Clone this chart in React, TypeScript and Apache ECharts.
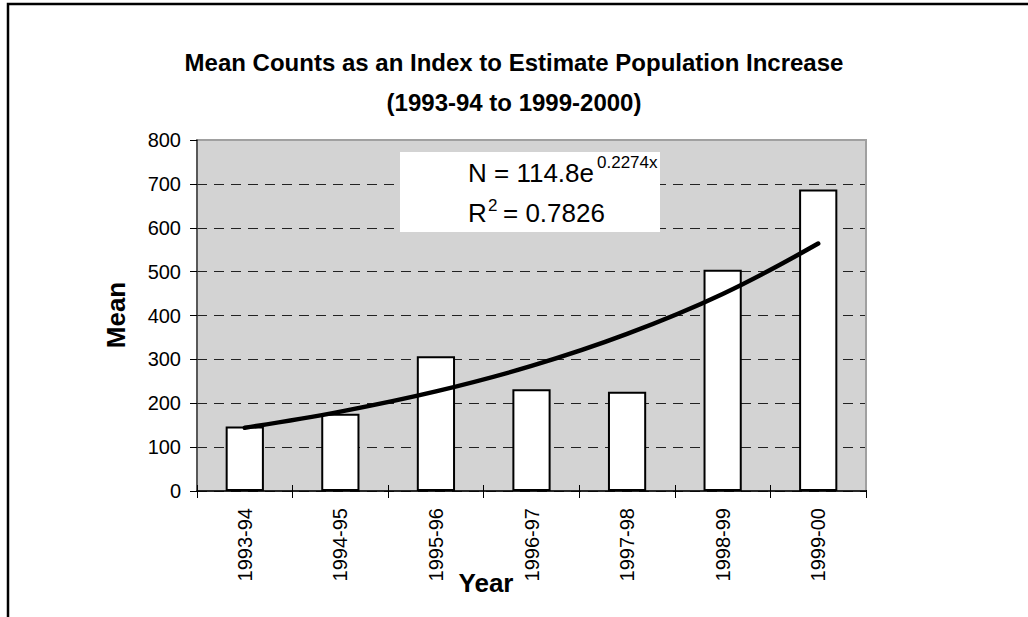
import React, { useEffect, useRef } from "react";
import * as echarts from "echarts";

const categories = ["1993-94", "1994-95", "1995-96", "1996-97", "1997-98", "1998-99", "1999-00"];
const meanValues = [147, 176, 307, 232, 226, 504, 687];
// exponential trend line N = 114.8e^(0.2274x), values as drawn
const trendValues = [144, 181, 227, 285, 358, 449, 564];
const yTicks = { min: 0, max: 800, interval: 100 };

const FONT = "'Liberation Sans', Arial, sans-serif";

export default function App() {
  const ref = useRef<HTMLDivElement>(null);
  useEffect(() => {
    if (!ref.current) return;
    const chart = echarts.init(ref.current, undefined, { renderer: "svg" });
    chart.setOption({
      animation: false,
      backgroundColor: "#ffffff",
      textStyle: { fontFamily: FONT },
      title: {
        text: "Mean Counts as an Index to Estimate Population Increase\n(1993-94 to 1999-2000)",
        left: "center",
        top: 37,
        textStyle: { fontFamily: FONT, fontSize: 24, fontWeight: "bold", color: "#000", lineHeight: 40 },
      },
      grid: {
        left: 197,
        right: 162,
        top: 140,
        bottom: 126,
        show: true,
        backgroundColor: "#d3d3d3",
        borderColor: "#a0a0a0",
        borderWidth: 2,
      },
      xAxis: [
        {
          type: "category",
          data: categories,
          position: "bottom",
          boundaryGap: true,
          axisLine: { show: true, lineStyle: { color: "#000", width: 1.5 } },
          axisTick: { show: true, length: 7, lineStyle: { color: "#000", width: 1 } },
          axisLabel: { rotate: 90, margin: 17, fontSize: 20, color: "#000", fontFamily: FONT },
          splitLine: { show: false },
        },
        {
          type: "category",
          data: categories,
          position: "bottom",
          boundaryGap: true,
          axisLine: { show: false },
          axisTick: { show: true, inside: true, length: 6, lineStyle: { color: "#000", width: 1 } },
          axisLabel: { show: false },
          splitLine: { show: false },
        },
      ],
      yAxis: {
        type: "value",
        min: yTicks.min,
        max: yTicks.max,
        interval: yTicks.interval,
        axisLine: { show: true, lineStyle: { color: "#404040", width: 1.5 } },
        axisTick: { show: true, length: 7, lineStyle: { color: "#000", width: 1 } },
        axisLabel: { margin: 16, fontSize: 20, color: "#000", fontFamily: FONT },
        splitLine: { show: true, lineStyle: { color: "#222", width: 1, type: [10, 7] } },
      },
      series: [
        {
          type: "bar",
          data: meanValues,
          barWidth: "40%",
          itemStyle: { color: "#ffffff", borderColor: "#000", borderWidth: 2 },
          z: 2,
        },
        {
          type: "line",
          data: trendValues,
          smooth: 0.4,
          showSymbol: false,
          symbol: "none",
          lineStyle: { color: "#000", width: 4.5, cap: "round" },
          z: 3,
        },
      ],
      graphic: [
        {
          type: "rect",
          shape: { x: 8, y: 4, width: 1200, height: 800 },
          style: { fill: "none", stroke: "#000", lineWidth: 2.5 },
          z: 0,
          silent: true,
        },
        {
          type: "polyline",
          shape: { points: [[198, 140], [866, 140], [866, 490]] },
          style: { fill: "none", stroke: "#a0a0a0", lineWidth: 2 },
          z: 5,
          silent: true,
        },
        {
          type: "rect",
          shape: { x: 400, y: 152, width: 260, height: 80 },
          style: { fill: "#ffffff" },
          z: 10,
        },
        {
          type: "text",
          x: 468,
          y: 173,
          z: 11,
          style: { text: "N = 114.8e", font: `26px ${FONT}`, fill: "#000", verticalAlign: "middle", align: "left" },
        },
        {
          type: "text",
          x: 597,
          y: 162,
          z: 11,
          style: { text: "0.2274x", font: `17px ${FONT}`, fill: "#000", verticalAlign: "middle", align: "left" },
        },
        {
          type: "text",
          x: 468,
          y: 213,
          z: 11,
          style: { text: "R", font: `26px ${FONT}`, fill: "#000", verticalAlign: "middle", align: "left" },
        },
        {
          type: "text",
          x: 488,
          y: 205,
          z: 11,
          style: { text: "2", font: `17px ${FONT}`, fill: "#000", verticalAlign: "middle", align: "left" },
        },
        {
          type: "text",
          x: 503,
          y: 213,
          z: 11,
          style: { text: "= 0.7826", font: `26px ${FONT}`, fill: "#000", verticalAlign: "middle", align: "left" },
        },
        {
          type: "text",
          x: 116,
          y: 315,
          rotation: Math.PI / 2,
          z: 11,
          style: { text: "Mean", font: `bold 26px ${FONT}`, fill: "#000", verticalAlign: "middle", align: "center" },
        },
        {
          type: "text",
          x: 486,
          y: 583,
          z: 11,
          style: { text: "Year", font: `bold 26px ${FONT}`, fill: "#000", verticalAlign: "middle", align: "center" },
        },
      ],
    });
    return () => chart.dispose();
  }, []);
  return (
    <div
      ref={ref}
      style={{ position: "absolute", left: 0, top: 0, width: 1028, height: 617 }}
    />
  );
}
